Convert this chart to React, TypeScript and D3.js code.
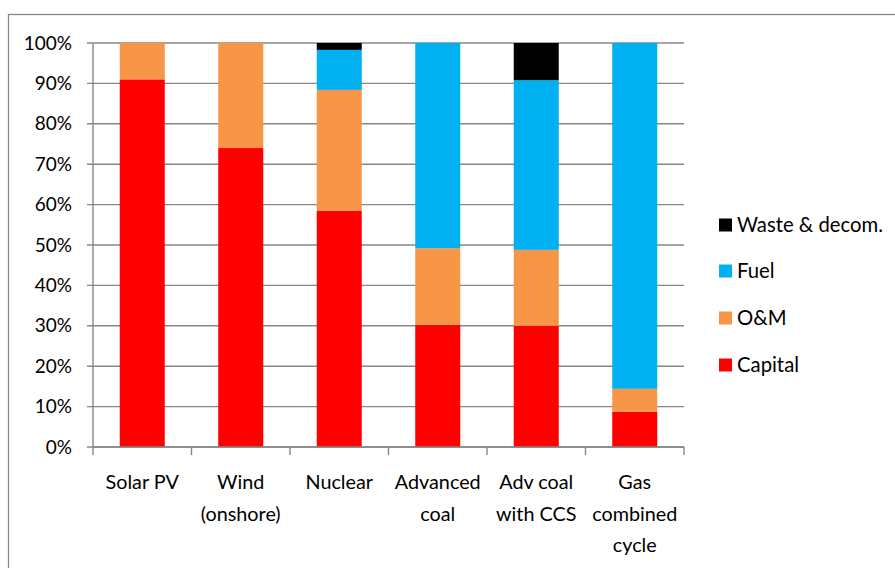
import React from "react";
import * as d3 from "d3";

const categories = ["Solar PV", "Wind\n(onshore)", "Nuclear", "Advanced\ncoal", "Adv coal\nwith CCS", "Gas\ncombined\ncycle"];
const capital = [91, 74, 58.5, 30.3, 30.0, 8.7];
const om = [9, 26, 29.9, 18.9, 18.8, 5.7];
const fuel = [0, 0, 9.9, 50.8, 42.0, 85.6];
const waste = [0, 0, 1.7, 0, 9.2, 0];
const seriesNames = ["Capital", "O&M", "Fuel", "Waste & decom."];
const seriesColors = ["#FF0000", "#F79646", "#00B0F0", "#000000"];
const yTicks = [0, 10, 20, 30, 40, 50, 60, 70, 80, 90, 100];

export default function App() {
  const W = 895, H = 568;
  const x0 = 93, x1 = 684, yTop = 43, yBot = 447;
  const x = d3.scaleBand<number>().domain(d3.range(categories.length)).range([x0, x1]).paddingInner(0.543).paddingOuter(0.2715);
  const y = d3.scaleLinear().domain([0, 100]).range([yBot, yTop]);
  const rows = categories.map((_, i) => ({ capital: capital[i], om: om[i], fuel: fuel[i], waste: waste[i] }));
  const stack = d3.stack<any>().keys(["capital", "om", "fuel", "waste"])(rows);
  const band = (x1 - x0) / categories.length;
  const font = "Lato, 'Open Sans', sans-serif";
  const legendOrder = [3, 2, 1, 0];
  const legendY = [225, 271, 318, 365];
  return (
    <svg width={W} height={H} style={{ position: "absolute", left: 0, top: 0 }}>
      <rect x={0} y={0} width={W} height={H} fill="#fff" />
      <rect x={8.5} y={14.5} width={W + 20} height={H + 20} fill="none" stroke="#888" strokeWidth={1.3} />
      {yTicks.map((t) => (
        <g key={t}>
          <line x1={x0 - 6} x2={x1} y1={y(t)} y2={y(t)} stroke="#878787" strokeWidth={1.4} />
          <text x={72} y={y(t)} dy="0.35em" textAnchor="end" fontFamily={font} fontSize={19} fill="#000">{t}%</text>
        </g>
      ))}
      <line x1={x0} x2={x0} y1={yTop} y2={yBot} stroke="#878787" strokeWidth={1.4} />
      {stack.map((s, si) => (
        <g key={si}>
          {s.map((d, i) => (d[1] - d[0] > 0 ? (
            <rect key={i} x={x(i)} y={y(d[1])} width={x.bandwidth()} height={y(d[0]) - y(d[1])} fill={seriesColors[si]} />
          ) : null))}
        </g>
      ))}
      <line x1={x0} x2={x1} y1={yBot} y2={yBot} stroke="#878787" strokeWidth={1.4} />
      {d3.range(categories.length + 1).map((i) => (
        <line key={i} x1={x0 + i * band} x2={x0 + i * band} y1={yBot} y2={yBot + 8} stroke="#878787" strokeWidth={1.4} />
      ))}
      {categories.map((c, i) => (
        <text key={i} textAnchor="middle" fontFamily={font} fontSize={19.8} fill="#000">
          {c.split("\n").map((line, li) => (
            <tspan key={li} x={(x(i) as number) + x.bandwidth() / 2} y={489 + li * 31.5}>{line}</tspan>
          ))}
        </text>
      ))}
      {legendOrder.map((si, k) => (
        <g key={si}>
          <rect x={719} y={legendY[k] - 6.5} width={13} height={13} fill={seriesColors[si]} />
          <text x={737} y={legendY[k]} dy="0.35em" fontFamily={font} fontSize={20.3} fill="#000">{seriesNames[si]}</text>
        </g>
      ))}
    </svg>
  );
}
